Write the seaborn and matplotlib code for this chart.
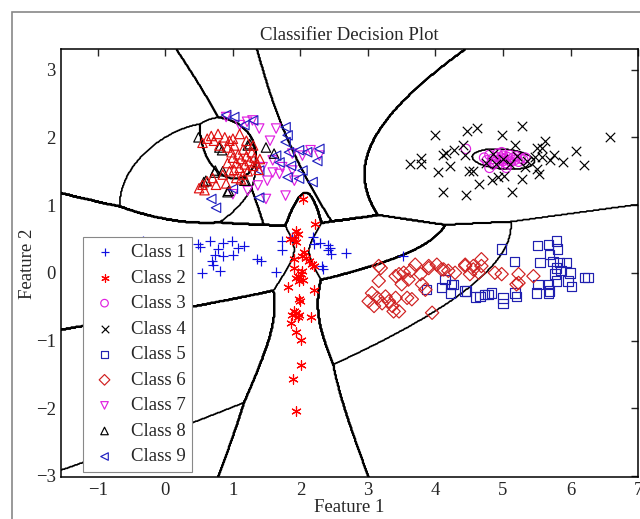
import numpy as np
import matplotlib
matplotlib.use("Agg")
import matplotlib.pyplot as plt
import seaborn as sns

# ---- data (feature 1, feature 2) ----
class1_x = [-0.33, 0.48, 0.52, 0.66, 0.85, 0.98, 1.07, 1.16, 0.78, 0.74, 0.85, 1.00, 0.69, 0.70,
            0.55, 0.81, 1.36, 1.41, 1.64, 1.73, 1.73, 1.87, 2.18, 2.20, 2.29, 2.41, 2.44, 2.41,
            2.45, 2.67, 2.32, 2.34, 3.52]
class1_y = [0.47, 0.42, 0.38, 0.47, 0.44, 0.47, 0.37, 0.40, 0.35, 0.27, 0.25, 0.26, 0.18, 0.12,
            -0.01, 0.03, 0.20, 0.18, 0.01, 0.47, 0.33, 0.53, 0.53, 0.42, 0.44, 0.41, 0.36, 0.33,
            0.28, 0.29, 0.10, 0.05, 0.25]

class2_x = [1.94, 1.96, 1.91, 1.84, 1.93, 2.22, 2.05, 2.03, 2.09, 2.13, 2.17, 2.20, 1.91, 1.90,
            2.03, 2.01, 1.96, 1.93, 1.98, 2.04, 1.81, 2.20, 1.98, 2.00, 1.91, 1.88, 1.93, 1.98,
            1.96, 1.86, 2.15, 1.94, 2.01, 2.01, 1.89, 1.93, 2.04]
class2_y = [0.62, 0.58, 0.50, 0.50, 0.45, 0.72, 0.30, 0.25, 0.22, 0.17, 0.13, 0.10, 0.21, 0.07,
            0.03, -0.02, -0.05, -0.07, -0.12, -0.10, -0.21, -0.25, -0.38, -0.42, -0.56, -0.62,
            -0.59, -0.62, -0.66, -0.74, -0.66, -0.88, -0.99, -1.36, -1.57, -2.04, 1.09]

class3_x = [4.72, 4.76, 4.80, 4.84, 4.87, 4.90, 4.92, 4.95, 4.97, 5.00, 5.00, 5.02, 5.04, 5.06,
            5.08, 5.10, 5.12, 5.15, 5.18, 5.20, 5.23, 5.26, 5.30, 4.86, 4.98, 5.07, 4.45, 4.80,
            5.05, 5.33]
class3_y = [1.70, 1.66, 1.74, 1.68, 1.63, 1.71, 1.76, 1.66, 1.70, 1.65, 1.73, 1.68, 1.62, 1.71,
            1.66, 1.74, 1.64, 1.70, 1.67, 1.72, 1.64, 1.69, 1.67, 1.60, 1.78, 1.60, 1.83, 1.55,
            1.55, 1.70]

class4_x = [3.99, 4.46, 4.62, 5.28, 4.98, 6.59, 3.63, 3.78, 3.79, 4.03, 4.22, 4.11, 4.16, 4.27,
            4.41, 4.43, 4.50, 4.55, 4.65, 4.11, 4.45, 5.13, 4.84, 4.93, 5.02, 5.28, 5.18, 5.50,
            5.58, 5.62, 5.47, 5.58, 5.69, 5.76, 5.89, 6.08, 6.20, 5.50, 5.53, 5.32, 4.85, 5.00,
            5.20, 4.90, 5.10, 5.35, 4.75]
class4_y = [2.04, 2.10, 2.14, 2.17, 2.04, 2.00, 1.60, 1.60, 1.69, 1.49, 1.57, 1.74, 1.77, 1.81,
            1.89, 1.74, 1.51, 1.50, 1.31, 1.19, 1.15, 1.19, 1.37, 1.41, 1.43, 1.39, 1.88, 1.84,
            1.85, 1.94, 1.71, 1.71, 1.66, 1.74, 1.63, 1.80, 1.59, 1.53, 1.46, 1.56, 1.75, 1.68,
            1.72, 1.60, 1.60, 1.65, 1.62]

class5_x = [4.98, 5.17, 5.51, 5.67, 5.79, 5.81, 5.69, 5.55, 5.74, 5.84, 5.94, 5.79, 5.86, 5.99,
            5.77, 5.96, 5.79, 6.01, 5.67, 6.21, 6.26, 5.52, 5.50, 5.67, 5.18, 5.20, 5.00, 5.00,
            4.83, 4.73, 4.66, 4.59, 4.46, 4.24, 4.14, 4.09, 4.22, 3.87, 5.69, 4.27, 4.78, 4.44]
class5_y = [0.35, 0.17, 0.40, 0.42, 0.47, 0.35, 0.27, 0.15, 0.17, 0.15, 0.15, 0.07, 0.03, 0.00,
            -0.02, -0.12, -0.12, -0.20, -0.17, -0.07, -0.07, -0.17, -0.30, -0.30, -0.30, -0.35,
            -0.37, -0.45, -0.30, -0.32, -0.35, -0.36, -0.27, -0.17, -0.10, -0.22, -0.30, -0.25,
            -0.27, -0.17, -0.32, -0.27]

class6_x = [3.19, 3.16, 3.06, 3.14, 3.01, 3.21, 3.09, 3.26, 3.31, 3.36, 3.41, 3.46, 3.38, 3.41,
            3.46, 3.50, 3.53, 3.63, 3.60, 3.70, 3.78, 3.85, 3.90, 4.02, 3.80, 3.65, 3.58, 4.09,
            4.19, 4.29, 4.44, 4.56, 4.68, 4.51, 4.64, 4.88, 4.98, 5.23, 5.23, 5.45, 3.95, 3.16,
            3.90, 4.12, 4.44, 4.56, 4.68, 5.20]
class6_y = [0.07, -0.12, -0.30, -0.37, -0.42, -0.45, -0.49, -0.35, -0.42, -0.49, -0.37, -0.57,
            -0.57, -0.05, -0.02, -0.17, 0.00, 0.03, -0.10, 0.12, -0.02, -0.25, 0.07, 0.12, -0.17,
            -0.39, -0.37, 0.05, 0.03, 0.00, 0.12, 0.10, 0.20, -0.02, 0.00, 0.00, -0.02, -0.02,
            -0.15, -0.05, -0.59, 0.10, 0.10, 0.05, 0.10, 0.05, 0.10, -0.17]

class7_x = [0.90, 1.21, 1.29, 1.39, 1.64, 1.88, 2.03, 2.28, 2.15, 1.59, 1.69, 1.51, 1.37, 1.22,
            1.78, 1.49, 1.00, 1.59, 1.73, 1.88, 1.44, 1.91, 1.10, 1.55]
class7_y = [2.30, 2.23, 2.25, 2.13, 2.13, 1.76, 1.73, 1.73, 1.81, 1.48, 1.46, 1.36, 1.29, 1.21,
            1.14, 1.09, 1.16, 1.66, 1.56, 1.51, 1.56, 1.36, 2.18, 1.95]

class8_x = [0.49, 0.80, 0.84, 0.73, 0.74, 0.57, 0.60, 0.92, 0.85, 1.19, 1.17, 1.22, 1.25, 1.49,
            1.61, 0.94]
class8_y = [2.00, 1.85, 1.81, 1.48, 1.51, 1.34, 1.36, 1.19, 1.50, 1.36, 1.36, 1.88, 1.90, 1.85,
            1.76, 1.21]

class9_x = [0.90, 1.02, 1.17, 1.78, 1.81, 1.78, 1.64, 1.83, 1.98, 2.10, 2.28, 1.69, 1.86, 2.03,
            1.98, 2.18, 1.81, 1.39, 1.39, 0.68, 0.75, 1.00, 1.30, 2.25]
class9_y = [2.33, 2.30, 2.18, 2.15, 2.03, 1.93, 1.73, 1.78, 1.81, 1.78, 1.83, 1.63, 1.58, 1.51,
            1.39, 1.34, 1.41, 1.51, 1.11, 1.09, 0.96, 1.24, 2.25, 1.65]

# tenth group drawn in the reference but left out of its legend
class10_x = [0.55, 0.62, 0.68, 0.72, 0.78, 0.80, 0.88, 0.92, 0.95, 0.98, 1.00, 1.02, 1.05, 1.08,
             1.10, 1.12, 1.15, 1.15, 1.18, 1.20, 1.22, 1.25, 1.28, 1.30, 1.32, 1.35, 1.38, 1.40,
             1.05, 0.95, 0.85, 0.70, 0.62, 0.55, 0.50, 0.58, 0.75, 0.90, 1.00, 1.10, 1.20, 1.30,
             0.92, 1.02, 1.12]
class10_y = [1.92, 1.98, 2.02, 1.95, 2.05, 1.88, 2.00, 1.85, 1.95, 1.78, 1.70, 1.88, 1.62, 1.75,
             1.55, 1.68, 1.82, 1.45, 1.60, 1.72, 1.50, 1.65, 1.78, 1.58, 1.70, 1.62, 1.52, 1.68,
             1.40, 1.50, 1.45, 1.40, 1.35, 1.30, 1.25, 1.22, 1.30, 1.32, 1.98, 2.05, 1.95, 1.88,
             1.62, 1.52, 1.38]

class_labels = ["Class 1", "Class 2", "Class 3", "Class 4", "Class 5",
                "Class 6", "Class 7", "Class 8", "Class 9", None]
xs = [class1_x, class2_x, class3_x, class4_x, class5_x, class6_x, class7_x, class8_x,
      class9_x, class10_x]
ys = [class1_y, class2_y, class3_y, class4_y, class5_y, class6_y, class7_y, class8_y,
      class9_y, class10_y]

markers = ["+", (6, 2, 0), "o", "x", "s", "D", "v", "^", "<", "^"]
colors = ["#1010e0", "#ff0000", "#e020e0", "#000000", "#2020b0",
          "#d02020", "#e020e0", "#000000", "#2020c0", "#e01010"]
line_markers = {0, 1, 3}

sns.set_style("white")
plt.rcParams["font.family"] = ["Liberation Serif", "DejaVu Serif"]
plt.rcParams["font.size"] = 13.5

fig = plt.figure(figsize=(6.4, 5.19), dpi=100)
ax = fig.add_axes([0.0948, 0.0803, 0.9022, 0.8247])

xlim = (-1.55, 7.0)
ylim = (-3.02, 3.3)

# quadratic (gaussian) decision regions fitted to the points
gx = np.linspace(xlim[0], xlim[1], 600)
gy = np.linspace(ylim[0], ylim[1], 500)
GX, GY = np.meshgrid(gx, gy)
pts = np.stack([GX.ravel(), GY.ravel()], axis=1)
scores = []
for cx, cy in zip(xs, ys):
    d = np.column_stack([cx, cy])
    mu = d.mean(axis=0)
    cov = np.cov(d.T) + np.eye(2) * 1e-4
    inv = np.linalg.inv(cov)
    diff = pts - mu
    m = np.einsum("ij,jk,ik->i", diff, inv, diff)
    scores.append(-0.5 * m - 0.5 * np.log(np.linalg.det(cov)))
region = np.argmax(np.array(scores), axis=0).reshape(GX.shape)
ax.contour(GX, GY, region, levels=np.arange(0.5, len(xs) - 0.5), colors="k",
           linewidths=1.2)

for i in range(len(xs)):
    kw = dict(marker=markers[i], s=46, linewidth=0.85, ax=ax, zorder=3)
    if class_labels[i] is not None:
        kw["label"] = class_labels[i]
    if i in line_markers:
        sns.scatterplot(x=xs[i], y=ys[i], color=colors[i], edgecolor="face", **kw)
    else:
        sns.scatterplot(x=xs[i], y=ys[i], facecolor="none", edgecolor=colors[i], **kw)

ax.set_xlim(*xlim)
ax.set_ylim(*ylim)
ax.set_xticks(range(-1, 8))
ax.set_yticks(range(-3, 4))
ax.tick_params(direction="in", length=5, top=True, right=True, labelsize=13.5, width=1)
for sp in ax.spines.values():
    sp.set_linewidth(1.1)
    sp.set_color("k")
ax.set_title("Classifier Decision Plot", fontsize=13.5, pad=7)
ax.set_xlabel("Feature 1", fontsize=13.5, labelpad=0)
ax.set_ylabel("Feature 2", fontsize=13.5, labelpad=0)

leg = ax.legend(loc="lower left", bbox_to_anchor=(0.0386, 0.0124), borderaxespad=0,
                fancybox=False, framealpha=1, edgecolor="#888888", fontsize=13.5,
                labelspacing=0.45, handletextpad=0.6, borderpad=0.35, handlelength=1.6,
                markerscale=0.8)
leg.get_frame().set_linewidth(0.8)

# grey window frame like the screenshot border
fig.patches.append(plt.Rectangle((11.7 / 640, -0.1), 1.2, 1 - 12 / 519 + 0.1,
                                 transform=fig.transFigure, fill=False,
                                 edgecolor="#888888", linewidth=1.2))

fig.savefig("out.png", dpi=100)
